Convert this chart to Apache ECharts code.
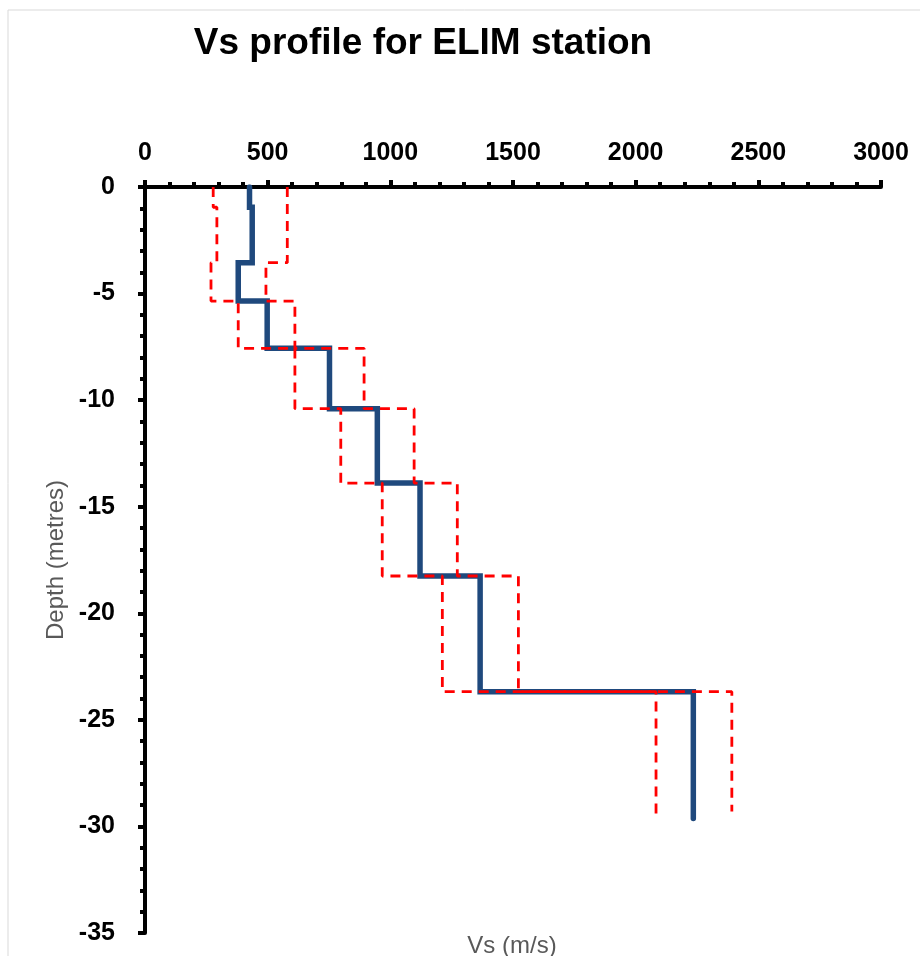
<!DOCTYPE html>
<html>
<head>
<meta charset="utf-8">
<script src="https://cdn.jsdelivr.net/npm/echarts@6/dist/echarts.min.js"></script>
<style>
html,body{margin:0;padding:0;background:#fff;}
#chart{width:920px;height:956px;}
</style>
</head>
<body>
<div id="chart"></div>
<script>
// Layer boundaries (depth, m) shared by all profiles
const layerTops = [0, -0.95, -3.55, -5.35, -7.57, -10.4, -13.89, -18.25, -23.68];
// Bottom depth of the last layer for each profile
const meanBottom = -29.63;
const lowerBottom = -29.6;
const upperBottom = -29.3;
// Vs values per layer (m/s)
const vsMean  = [426, 437, 380, 498, 752, 947, 1121, 1366, 2235];
const vsLower = [278, 293, 269, 380, 611, 798, 967, 1212, 2083];
const vsUpper = [580, 580, 493, 611, 893, 1097, 1273, 1522, 2392];
// Tick settings
const xTicks = {min: 0, max: 3000, interval: 500};
const yTicks = {min: -35, max: 0, interval: 5};

function stepProfile(vs, tops, bottom) {
  const pts = [];
  for (let i = 0; i < vs.length; i++) {
    const top = tops[i];
    const bot = i + 1 < tops.length ? tops[i + 1] : bottom;
    pts.push([vs[i], top]);
    pts.push([vs[i], bot]);
  }
  return pts;
}

const FONT = 'Liberation Sans';
const chart = echarts.init(document.getElementById('chart'), null, {renderer: 'canvas'});

const axisCommon = {
  type: 'value',
  splitLine: {show: false},
  minorSplitLine: {show: false},
  axisLine: {show: true, onZero: false, lineStyle: {color: '#000', width: 4}},
  axisTick: {show: true, inside: false, length: 7, lineStyle: {color: '#000', width: 4}},
  minorTick: {show: true, splitNumber: 5, length: 5, lineStyle: {color: '#000', width: 4}},
  axisLabel: {color: '#000', fontFamily: FONT, fontWeight: 'bold', fontSize: 25,
              formatter: function (v) { return String(v); }}
};

chart.setOption({
  animation: false,
  backgroundColor: '#fff',
  grid: {left: 145, top: 187, right: 39, bottom: 23, containLabel: false},
  graphic: [
    {type: 'rect', shape: {x: 8, y: 10, width: 940, height: 980},
     style: {fill: 'none', stroke: '#d9d9d9', lineWidth: 1}, silent: true},
    {type: 'text', x: 423, y: 44,
     style: {text: 'Vs profile for ELIM station', font: 'bold 37px "Liberation Sans"',
             fill: '#000', textAlign: 'center', textVerticalAlign: 'middle'}},
    {type: 'text', x: 512, y: 946,
     style: {text: 'Vs (m/s)', font: '24px "Liberation Sans"',
             fill: '#595959', textAlign: 'center', textVerticalAlign: 'middle'}}
  ],
  xAxis: Object.assign({}, axisCommon, {
    position: 'top',
    min: xTicks.min, max: xTicks.max, interval: xTicks.interval,
    axisLabel: Object.assign({}, axisCommon.axisLabel, {margin: 21})
  }),
  yAxis: Object.assign({}, axisCommon, {
    position: 'left',
    min: yTicks.min, max: yTicks.max, interval: yTicks.interval,
    axisLabel: Object.assign({}, axisCommon.axisLabel, {margin: 30}),
    name: 'Depth (metres)',
    nameLocation: 'middle',
    nameRotate: 90,
    nameGap: 73,
    nameTextStyle: {color: '#595959', fontFamily: FONT, fontSize: 24}
  }),
  series: [
    {name: 'Mean', type: 'line', data: stepProfile(vsMean, layerTops, meanBottom),
     showSymbol: false, symbol: 'none', z: 2,
     lineStyle: {color: '#1f497d', width: 5.5, cap: 'round', join: 'miter'}},
    {name: 'Lower', type: 'line', data: stepProfile(vsLower, layerTops, lowerBottom),
     showSymbol: false, symbol: 'none', z: 3,
     lineStyle: {color: '#ff0000', width: 2.8, type: [10, 7]}},
    {name: 'Upper', type: 'line', data: stepProfile(vsUpper, layerTops, upperBottom),
     showSymbol: false, symbol: 'none', z: 3,
     lineStyle: {color: '#ff0000', width: 2.8, type: [10, 7]}}
  ]
});
</script>
</body>
</html>
